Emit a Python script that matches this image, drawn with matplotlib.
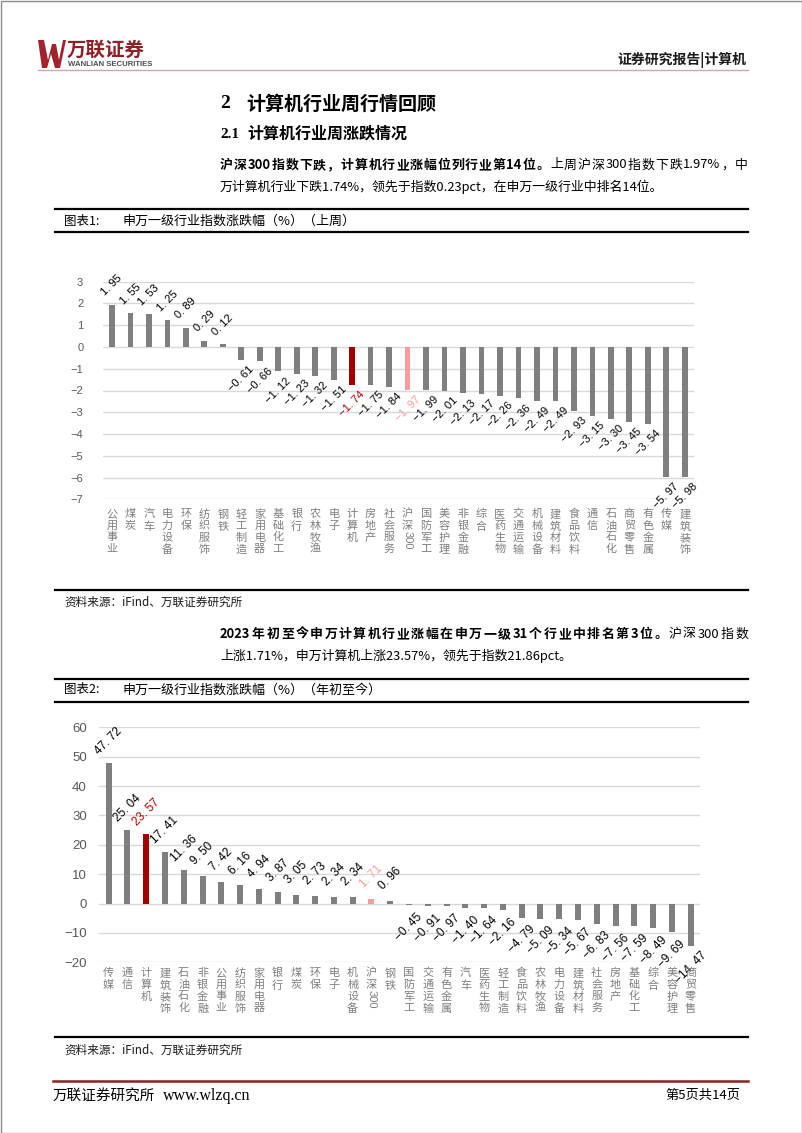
import re
import numpy as np
import matplotlib
matplotlib.use('Agg')
import matplotlib.pyplot as plt
from matplotlib import transforms
from matplotlib.patches import Rectangle, Polygon

plt.rcParams['font.family'] = ['Noto Sans CJK SC', 'DejaVu Sans']
plt.rcParams['axes.unicode_minus'] = True

# ---------------- data ----------------
week_cats = ['公用事业', '煤炭', '汽车', '电力设备', '环保', '纺织服饰', '钢铁', '轻工制造',
             '家用电器', '基础化工', '银行', '农林牧渔', '电子', '计算机', '房地产', '社会服务',
             '沪深300', '国防军工', '美容护理', '非银金融', '综合', '医药生物', '交通运输',
             '机械设备', '建筑材料', '食品饮料', '通信', '石油石化', '商贸零售', '有色金属',
             '传媒', '建筑装饰']
week_vals = [1.95, 1.55, 1.53, 1.25, 0.89, 0.29, 0.12, -0.61, -0.66, -1.12, -1.23, -1.32,
             -1.51, -1.74, -1.75, -1.84, -1.97, -1.99, -2.01, -2.13, -2.17, -2.26, -2.36,
             -2.49, -2.49, -2.93, -3.15, -3.30, -3.45, -3.54, -5.97, -5.98]
week_yticks = [3, 2, 1, 0, -1, -2, -3, -4, -5, -6, -7]

ytd_cats = ['传媒', '通信', '计算机', '建筑装饰', '石油石化', '非银金融', '公用事业', '纺织服饰',
            '家用电器', '银行', '煤炭', '环保', '电子', '机械设备', '沪深300', '钢铁', '国防军工',
            '交通运输', '有色金属', '汽车', '医药生物', '轻工制造', '食品饮料', '农林牧渔',
            '电力设备', '建筑材料', '社会服务', '房地产', '基础化工', '综合', '美容护理', '商贸零售']
ytd_vals = [47.72, 25.04, 23.57, 17.41, 11.36, 9.50, 7.42, 6.16, 4.94, 3.87, 3.05, 2.73,
            2.34, 2.34, 1.71, 0.96, -0.45, -0.91, -0.97, -1.40, -1.64, -2.16, -4.79, -5.09,
            -5.34, -5.67, -6.83, -7.56, -7.59, -8.49, -9.69, -14.47]
ytd_yticks = [60, 50, 40, 30, 20, 10, 0, -10, -20]

HIGHLIGHT = '计算机'
INDEX = '沪深300'

GRAY = '#7F7F7F'
RED = '#A50000'
PINK = '#FF9B9B'
GRID = '#D9D9D9'

W, H = 802, 1133
fig = plt.figure(figsize=(W / 100, H / 100), dpi=100)
page = fig.add_axes([0, 0, 1, 1])
page.set_xlim(0, W)
page.set_ylim(H, 0)
page.axis('off')
renderer = fig.canvas.get_renderer()


def axrect(l, r, t, b):
    return [l / W, 1 - b / H, (r - l) / W, (b - t) / H]


def fmt(v):
    return f'{v:.2f}'.replace('.', '. ').replace('-', '\u2212')


def bar_chart(rect, cats, vals, ylim, yticks, tick_fs, tick_pad, lab_fs, lab_off,
              cat_top, cat_fs, cat_ls, bar_w):
    ax = fig.add_axes(rect)
    x = np.arange(len(cats))
    colors = [RED if c == HIGHLIGHT else PINK if c == INDEX else GRAY for c in cats]
    ax.bar(x, vals, width=bar_w, color=colors, zorder=3)
    ax.set_xlim(-0.5, len(cats) - 0.5)
    ax.set_ylim(*ylim)
    ax.set_yticks(yticks, labels=[str(t).replace('-', '\u2212') for t in yticks],
                  fontsize=tick_fs, color='#595959', family='Liberation Sans')
    ax.yaxis.grid(True, color=GRID, lw=1.0, zorder=0)
    ax.set_axisbelow(True)
    for s in ax.spines.values():
        s.set_visible(False)
    ax.tick_params(axis='y', length=0, pad=tick_pad)
    ax.set_xticks([])
    ax.patch.set_alpha(0)
    for i, v in enumerate(vals):
        c = cats[i]
        col = RED if c == HIGHLIGHT else PINK if c == INDEX else '#000000'
        ax.annotate(fmt(v), xy=(i, v),
                    xytext=(0, lab_off if v >= 0 else -lab_off), textcoords='offset pixels',
                    ha='center', va='center', rotation=45, fontsize=lab_fs, color=col,
                    family='Liberation Sans', annotation_clip=False)
    trans = transforms.blended_transform_factory(ax.transData, page.transData)
    for i, c in enumerate(cats):
        if c.endswith('300'):
            head = c[:-3]
            ax.text(i, cat_top, '\n'.join(head), transform=trans, ha='center', va='top',
                    fontsize=cat_fs, color=GRAY, linespacing=cat_ls, clip_on=False)
            ax.text(i + 0.02, cat_top + 22, '300', transform=trans, ha='center', va='top',
                    rotation=270, fontsize=cat_fs, color=GRAY, family='Liberation Sans',
                    clip_on=False)
        else:
            ax.text(i, cat_top, '\n'.join(c), transform=trans, ha='center', va='top',
                    fontsize=cat_fs, color=GRAY, linespacing=cat_ls, clip_on=False)
    return ax


def justify(y, segs, x0, x1, fs):
    toks = []
    for text, wt in segs:
        for t in re.findall(r'[0-9A-Za-z.%]+|.', text):
            toks.append((t, wt))
    widths = []
    for t, wt in toks:
        tt = page.text(0, 0, t, fontsize=fs, weight=wt)
        widths.append(tt.get_window_extent(renderer).width)
        tt.remove()
    gap = (x1 - x0 - sum(widths)) / (len(toks) - 1)
    x = x0
    for (t, wt), w in zip(toks, widths):
        page.text(x, y, t, fontsize=fs, weight=wt, va='center', ha='left', color='#000000')
        x += w + gap


# ---------------- page furniture ----------------
page.add_patch(Rectangle((0.5, 0.5), W - 1, H - 1, fill=False, ec='#8C8C8C', lw=1))

# logo
page.add_patch(Polygon([[38, 40], [44, 40], [48, 60], [52, 44], [56, 44], [59, 60], [63, 40],
                        [66, 40], [60, 68], [55, 68], [51, 54], [47, 68], [42, 68]],
                       closed=True, fc='#A1232B', ec='none'))
page.text(67, 50, '万联证券', fontsize=14, weight='bold', color='#8E1F25', va='center', ha='left')
page.text(68, 65, 'WANLIAN SECURITIES', fontsize=5.6, color='#4D4D4D', va='center', ha='left',
          family=['Liberation Sans Narrow', 'Liberation Sans'], weight='bold')
page.text(746, 60, '证券研究报告|计算机', fontsize=10, weight='bold', color='#1A1A1A',
          va='center', ha='right')
page.plot([38, 748], [70, 70], color='#C9A9AE', lw=1)

# headings
page.text(220, 104, '2', fontsize=14, weight='bold', family='Liberation Serif', va='center')
page.text(246, 104, '计算机行业周行情回顾', fontsize=13.7, weight='bold', va='center')
page.text(220, 134, '2.1', fontsize=11, weight='bold', family='Liberation Serif', va='center')
page.text(247, 134, '计算机行业周涨跌情况', fontsize=11.5, weight='bold', va='center')

BODY = 9.3
# paragraph 1
justify(165, [('沪深300指数下跌，计算机行业涨幅位列行业第14位。', 'bold'),
              ('上周沪深300指数下跌1.97%，中', 'normal')], 220, 748, BODY)
page.text(220, 187, '万计算机行业下跌1.74%，领先于指数0.23pct，在申万一级行业中排名14位。',
          fontsize=BODY, va='center')

# chart 1 title box
page.plot([55, 748], [209, 209], color='black', lw=1.6)
page.plot([55, 748], [232, 232], color='black', lw=1.6)
page.text(64, 221, '图表1:', fontsize=9, va='center')
page.text(122, 221, '申万一级行业指数涨跌幅（%）（上周）', fontsize=9.4, va='center')
page.plot([55, 748], [590, 590], color='black', lw=1.6)
page.text(64, 602, '资料来源：iFind、万联证券研究所', fontsize=8.4, va='center', style='italic',
          color='#1A1A1A')

# paragraph 2
justify(634, [('2023年初至今申万计算机行业涨幅在申万一级31个行业中排名第3位。', 'bold'),
              ('沪深300指数', 'normal')], 220, 748, BODY)
page.text(220, 656, '上涨1.71%，申万计算机上涨23.57%，领先于指数21.86pct。', fontsize=BODY,
          va='center')

# chart 2 title box
page.plot([55, 748], [679, 679], color='black', lw=1.6)
page.plot([55, 748], [702, 702], color='black', lw=1.6)
page.text(64, 690, '图表2:', fontsize=9, va='center')
page.text(122, 690, '申万一级行业指数涨跌幅（%）（年初至今）', fontsize=9.4, va='center')
page.plot([55, 748], [1037, 1037], color='black', lw=1.6)
page.text(64, 1050, '资料来源：iFind、万联证券研究所', fontsize=8.4, va='center', style='italic',
          color='#1A1A1A')

# footer
page.plot([53, 748], [1081, 1081], color='#8E1F25', lw=1.8)
page.text(53, 1096, '万联证券研究所', fontsize=10.5, va='center')
page.text(163, 1096, 'www.wlzq.cn', fontsize=11.5, va='center', family='Liberation Serif')
page.text(740, 1095, '第5页共14页', fontsize=9.5, va='center', ha='right')

# ---------------- charts ----------------
bar_chart(axrect(102.7, 694, 281.7, 499.3), week_cats, week_vals, (-7, 3), week_yticks,
          tick_fs=8, tick_pad=14, lab_fs=8, lab_off=19, cat_top=509, cat_fs=8, cat_ls=1.2,
          bar_w=0.31)
bar_chart(axrect(99.3, 700, 727.3, 962.3), ytd_cats, ytd_vals, (-20, 60), ytd_yticks,
          tick_fs=9.5, tick_pad=9, lab_fs=8.5, lab_off=22, cat_top=968, cat_fs=8, cat_ls=1.2,
          bar_w=0.32)

fig.savefig('out.png', dpi=100)
